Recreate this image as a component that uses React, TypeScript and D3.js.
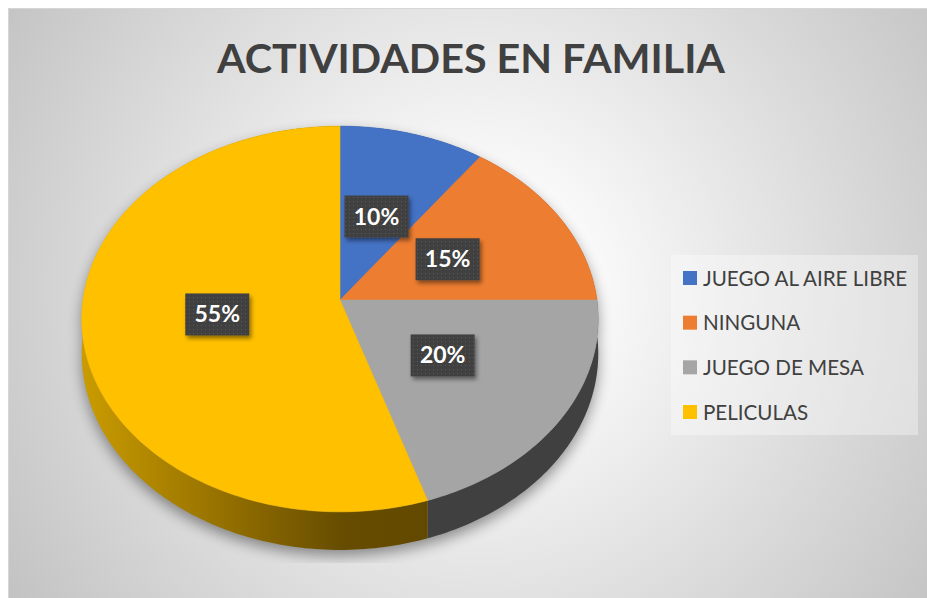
import React from 'react';
import * as d3 from 'd3';

// chart data
const categories = ['JUEGO AL AIRE LIBRE', 'NINGUNA', 'JUEGO DE MESA', 'PELICULAS'];
const values = [10, 15, 20, 55];
const faceColors = ['#4472c4', '#ed7d31', '#a5a5a5', '#ffc000'];
const title = 'ACTIVIDADES EN FAMILIA';

// pie geometry (page coords)
const cx = 340, cy = 300;
const A = 257, B = 191;   // horizontal / vertical radius
const K = 0.0985;         // perspective
const DEPTH = 34.3;
const FONT = 'Lato, "Open Sans", sans-serif';

const proj = (t: number, r: number, z = 0): [number, number] => {
  const u = r * Math.sin(t), v = -r * Math.cos(t);
  const w = 1 - K * v;
  return [cx + (A * u) / w, cy + (B * v + z) / w];
};

const sample = (a0: number, a1: number) => {
  const step = Math.PI / 180;
  const ts = d3.range(a0, a1, step);
  ts.push(a1);
  return ts;
};

const line = d3.line();

export default function App() {
  const total = d3.sum(values);
  const arcs = d3.pie<number>().sort(null).value(d => d)(values);

  const faces = arcs.map((a, i) => {
    const pts = [proj(0, 0), ...sample(a.startAngle, a.endAngle).map(t => proj(t, 1))];
    return { d: line(pts) + 'Z', fill: faceColors[i] };
  });

  // sides, back first
  const sides = arcs
    .map((a, i) => {
      const ts = sample(a.startAngle, a.endAngle);
      const top = ts.map(t => proj(t, 1));
      const bot = ts.map(t => proj(t, 1, DEPTH)).reverse();
      const front = d3.max(ts, t => -Math.cos(t)) as number;
      return { d: line([...top, ...bot]) + 'Z', i, front };
    })
    .sort((p, q) => p.front - q.front);

  const sideFill = (i: number) => (i === 3 ? 'url(#sideY)' : i === 2 ? '#404040' : d3.color(faceColors[i])!.darker(1.5).toString());

  const full = sample(0, 2 * Math.PI);
  const shadowD =
    line(full.map(t => proj(t, 1))) + 'Z' + line(full.map(t => proj(t, 1, DEPTH))) + 'Z';

  const labels = arcs.map((a, i) => {
    const mid = (a.startAngle + a.endAngle) / 2;
    const [x, y] = proj(mid, 0.48);
    return { x, y, text: d3.format('.0%')(values[i] / total) };
  });

  const legendY = d3.scalePoint<string>().domain(categories).range([278, 412]);

  return (
    <svg width={927} height={598} style={{ position: 'fixed', left: 0, top: 0, display: 'block' }}>
      <defs>
        <radialGradient id="bg" gradientUnits="userSpaceOnUse" cx={480} cy={290} r={560}>
          <stop offset="0" stopColor="#ffffff" />
          <stop offset="0.15" stopColor="#fdfdfd" />
          <stop offset="1" stopColor="#c3c3c3" />
        </radialGradient>
        <linearGradient id="sideY" gradientUnits="userSpaceOnUse" x1={85} y1={0} x2={430} y2={0}>
          <stop offset="0" stopColor="#c99b00" />
          <stop offset="0.45" stopColor="#8e6b00" />
          <stop offset="0.75" stopColor="#664c00" />
          <stop offset="1" stopColor="#624900" />
        </linearGradient>
        <pattern id="dots" width={4} height={4} patternUnits="userSpaceOnUse">
          <rect width={4} height={4} fill="#404040" />
          <rect x={1} y={1} width={1} height={1} fill="#5a5a5a" />
        </pattern>
        <filter id="blur" x="-20%" y="-20%" width="140%" height="140%">
          <feGaussianBlur stdDeviation={7} />
        </filter>
        <filter id="lblShadow" x="-30%" y="-30%" width="160%" height="160%">
          <feDropShadow dx={2} dy={3} stdDeviation={2} floodColor="#000" floodOpacity={0.45} />
        </filter>
        <clipPath id="shadowClip">
          <rect x={65} y={20} width={548} height={543} />
        </clipPath>
      </defs>
      <rect x={0} y={0} width={927} height={598} fill="#ffffff" />
      <rect x={8} y={8} width={919} height={590} fill="url(#bg)" />
      <path d="M8.5,598V8.5H927" fill="none" stroke="#d6d6d6" />

      <text x={471} y={73} textAnchor="middle" fontFamily={FONT} fontWeight={700}
        fontSize={41} fill="#404040" textLength={508} lengthAdjust="spacingAndGlyphs">
        {title}
      </text>

      <g clipPath="url(#shadowClip)">
        <path d={shadowD} transform="translate(0,6)" fill="#000" opacity={0.4} filter="url(#blur)" />
      </g>

      {sides.map(s => (
        <path key={'s' + s.i} d={s.d} fill={sideFill(s.i)} />
      ))}
      {faces.map((f, i) => (
        <path key={'f' + i} d={f.d} fill={f.fill} stroke={f.fill} strokeWidth={0.5} />
      ))}

      {labels.map((l, i) => (
        <g key={'l' + i}>
          <rect x={l.x - 32} y={l.y - 21} width={64} height={42} fill="url(#dots)" filter="url(#lblShadow)" />
          <text x={l.x} y={l.y + 8} textAnchor="middle" fontFamily={FONT} fontWeight={700}
            fontSize={23} fill="#ffffff">
            {l.text}
          </text>
        </g>
      ))}

      <rect x={671} y={255} width={247} height={180} fill="#ffffff" opacity={0.35} />
      {categories.map((c, i) => {
        const y = legendY(c) as number;
        return (
          <g key={c}>
            <rect x={683} y={y - 7} width={14} height={14} fill={faceColors[i]} />
            <text x={703} y={y + 7.5} fontFamily={FONT} fontSize={20.6} fill="#404040">
              {c}
            </text>
          </g>
        );
      })}
    </svg>
  );
}
